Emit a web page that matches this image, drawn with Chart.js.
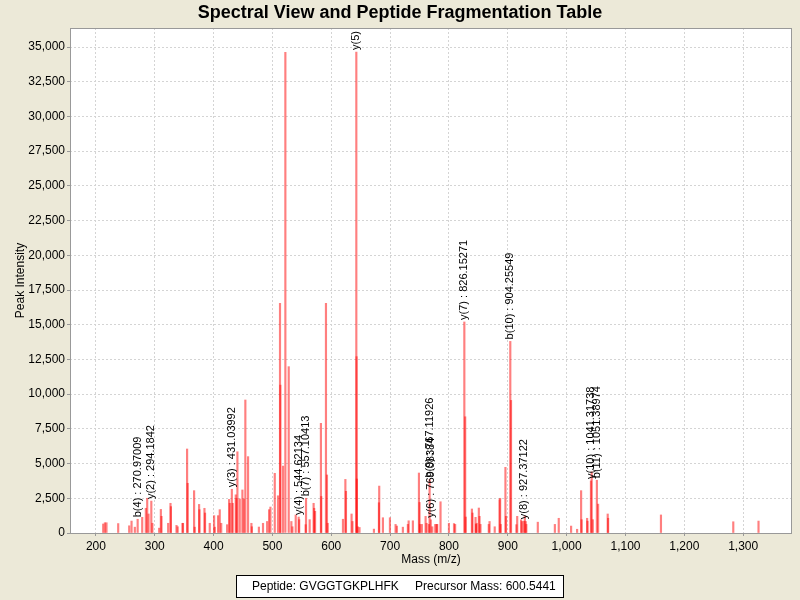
<!DOCTYPE html>
<html>
<head>
<meta charset="utf-8">
<title>Spectral View and Peptide Fragmentation Table</title>
<script src="https://cdn.jsdelivr.net/npm/chart.js@4/dist/chart.umd.min.js"></script>
<style>
    html, body { margin: 0; padding: 0; background: #ECE9D8; }
    #wrap { width: 800px; height: 600px; }
</style>
</head>
<body>
<div id="wrap"><canvas id="spectrumChart" width="800" height="600"></canvas></div>
<script>
// Peak list (m/z and intensity)
const peakMz = [
    212.4, 215.3, 218.0, 237.9, 256.6, 260.6, 266.2, 270.97, 278.7, 284.9,
    287.2, 289.5, 294.18, 296.0, 307.5, 310.4, 311.5, 322.8, 326.8, 327.5,
    337.0, 339.0, 347.2, 348.0, 355.0, 356.0, 366.9, 368.0, 375.4, 376.0,
    384.5, 385.5, 393.5, 400.9, 402.0, 407.7, 410.5, 413.0, 423.0, 426.4,
    427.6, 431.04, 432.5, 437.7, 439.0, 440.5, 444.5, 449.0, 451.3, 454.0,
    458.6, 464.3, 465.0, 477.0, 484.0, 491.0, 494.3, 496.6, 504.0, 509.5,
    512.9, 513.5, 518.0, 522.0, 527.7, 532.2, 534.0, 539.6, 544.62, 545.5,
    556.5, 557.1, 563.3, 570.0, 571.0, 572.5, 582.4, 583.0, 591.0, 592.7,
    594.0, 619.9, 624.0, 625.0, 634.5, 636.0, 642.6, 643.0, 643.5, 645.0,
    648.0, 672.5, 681.0, 681.5, 687.8, 699.7, 709.3, 711.5, 721.7, 730.2,
    731.5, 738.7, 749.0, 750.0, 751.0, 754.0, 760.3, 762.0, 766.0, 767.12,
    769.08, 771.7, 776.7, 779.0, 780.0, 785.7, 800.0, 808.6, 810.5, 826.15,
    827.6, 828.5, 839.0, 840.0, 845.2, 846.0, 847.0, 850.8, 852.0, 853.6,
    867.7, 869.0, 877.8, 885.9, 887.0, 888.0, 896.0, 897.0, 904.26, 905.5,
    914.6, 916.0, 922.6, 924.0, 927.37, 929.0, 930.5, 931.5, 951.0, 980.0,
    986.6, 1007.6, 1017.8, 1024.6, 1025.5, 1034.8, 1035.5, 1041.32, 1042.6, 1044.5,
    1051.39, 1053.5, 1069.8, 1070.5, 1160.3, 1283.2, 1326.1
];
const peakIntensity = [
    650, 740, 740, 680, 520, 860, 420, 990, 1130, 1780,
    2500, 1370, 2300, 700, 350, 1700, 1200, 700, 2140, 1900,
    550, 450, 700, 700, 6050, 3580, 3050, 420, 2060, 1680,
    1780, 1440, 700, 1250, 420, 1250, 1680, 700, 600, 2420,
    2140, 3150, 2140, 2750, 2500, 5850, 2450, 3100, 2450, 9580,
    5500, 700, 450, 430, 700, 830, 1680, 1870, 4300, 2680,
    16540, 10650, 4820, 34620, 11980, 830, 450, 1300, 1150, 960,
    600, 2500, 960, 2140, 1780, 1560, 7900, 2630, 16540, 4180,
    700, 990, 3860, 3000, 1370, 830, 34640, 12700, 3890, 450,
    400, 280, 2180, 3380, 1100, 1100, 620, 500, 420, 620,
    880, 880, 4320, 2200, 620, 620, 1200, 700, 620, 3850,
    950, 450, 620, 620, 620, 2250, 700, 680, 620, 15200,
    8370, 1150, 1730, 1440, 1130, 620, 700, 1800, 1200, 620,
    620, 830, 450, 2400, 2500, 620, 4730, 1200, 13800, 9550,
    600, 1200, 950, 830, 850, 1220, 830, 620, 780, 620,
    1060, 500, 270, 3050, 960, 1060, 850, 3750, 4400, 960,
    3800, 2080, 1370, 1060, 1300, 810, 860
];

// Matched fragment ions (annotations)
const fragmentLabels = [
    'b(4) : 270.97009', 'y(2) : 294.1842', 'y(3) : 431.03992', 'y(4) : 544.62134',
    'b(7) : 557.10413', 'y(5) : 642.26599', 'b(9) : 767.11926', 'y(6) : 769.08384',
    'y(7) : 826.15271', 'b(10) : 904.25549', 'y(8) : 927.37122', 'y(10) : 1041.31738',
    'b(11) : 1051.38974'
];
const fragmentMz = [
    270.97, 294.18, 431.04, 544.62, 557.1, 642.6, 767.12, 769.08,
    826.15, 904.26, 927.37, 1041.32, 1051.39
];
const fragmentIntensity = [
    990, 2300, 3150, 1150, 2500, 34640, 3850, 950,
    15200, 13800, 850, 3750, 3800
];

// Axis ranges and tick values
const massRange = [156, 1383];
const massTicks = [200, 300, 400, 500, 600, 700, 800, 900, 1000, 1100, 1200, 1300];
const intensityMax = 36370;
const intensityTicks = [
    0, 2500, 5000, 7500, 10000, 12500, 15000, 17500,
    20000, 22500, 25000, 27500, 30000, 32500, 35000
];

const peptideText = 'Peptide: GVGGTGKPLHFK';
const precursorText = 'Precursor Mass: 600.5441';

const FONT = '"Liberation Sans", Arial, sans-serif';

document.addEventListener('DOMContentLoaded', function() {
    if (typeof Chart === 'undefined') {
        console.error('Chart.js not loaded');
        return;
    }

    // White plot background + grey outline
    const plotFrame = {
        id: 'plotFrame',
        beforeDraw(chart) {
            const { ctx, chartArea: a } = chart;
            ctx.save();
            ctx.fillStyle = '#ECE9D8';
            ctx.fillRect(0, 0, chart.width, chart.height);
            ctx.fillStyle = '#ffffff';
            ctx.fillRect(a.left, a.top, a.right - a.left, a.bottom - a.top);
            ctx.restore();
        },
        afterDraw(chart) {
            const { ctx, chartArea: a } = chart;
            ctx.save();
            ctx.strokeStyle = '#999999';
            ctx.lineWidth = 1;
            ctx.strokeRect(a.left + 0.5, a.top + 0.5, a.right - a.left - 1, a.bottom - a.top);
            ctx.restore();
        }
    };

    // Rotated fragment labels above their peaks
    const fragmentAnnotations = {
        id: 'fragmentAnnotations',
        afterDatasetsDraw(chart) {
            const { ctx, chartArea: a, scales } = chart;
            ctx.save();
            ctx.beginPath();
            ctx.rect(a.left, a.top, a.right - a.left, a.bottom - a.top);
            ctx.clip();
            ctx.font = '11px ' + FONT;
            ctx.fillStyle = '#000000';
            ctx.textAlign = 'left';
            ctx.textBaseline = 'middle';
            fragmentLabels.forEach(function(label, i) {
                const x = scales.x.getPixelForValue(fragmentMz[i]);
                const y = scales.y.getPixelForValue(fragmentIntensity[i]) - 2;
                ctx.save();
                ctx.translate(x, y);
                ctx.rotate(-Math.PI / 2);
                ctx.fillText(label, 0, 0);
                ctx.restore();
            });
            ctx.restore();
        }
    };

    // Title and peptide info box
    const headerFooter = {
        id: 'headerFooter',
        afterDraw(chart) {
            const ctx = chart.ctx;
            ctx.save();
            ctx.fillStyle = '#000000';
            ctx.font = 'bold 18px ' + FONT;
            ctx.textAlign = 'center';
            ctx.textBaseline = 'middle';
            ctx.fillText('Spectral View and Peptide Fragmentation Table', 400, 13);

            ctx.fillStyle = '#ffffff';
            ctx.fillRect(236, 575, 328, 23);
            ctx.strokeStyle = '#000000';
            ctx.lineWidth = 1;
            ctx.strokeRect(236.5, 575.5, 327, 22);
            ctx.fillStyle = '#000000';
            ctx.font = '12px ' + FONT;
            ctx.textAlign = 'left';
            ctx.fillText(peptideText, 252, 587);
            ctx.fillText(precursorText, 415, 587);
            ctx.restore();
        }
    };

    function fmt(v) { return v.toLocaleString('en-US'); }

    const ctx = document.getElementById('spectrumChart').getContext('2d');
    new Chart(ctx, {
        type: 'bar',
        data: {
            datasets: [{
                data: peakMz.map(function(mz, i) { return { x: mz, y: peakIntensity[i] }; }),
                backgroundColor: 'rgba(255, 0, 0, 0.5)',
                borderWidth: 0,
                barThickness: 1.5
            }]
        },
        options: {
            responsive: false,
            animation: false,
            layout: { padding: { left: 0, top: 28, right: 8, bottom: 30 } },
            plugins: {
                legend: { display: false },
                tooltip: { enabled: false },
                title: { display: false }
            },
            scales: {
                x: {
                    type: 'linear',
                    min: massRange[0],
                    max: massRange[1],
                    offset: false,
                    grid: { offset: false, color: '#d4d4d4', tickColor: '#999999', tickLength: 3 },
                    border: { display: false, dash: [2, 2] },
                    ticks: {
                        maxRotation: 0,
                        autoSkip: false,
                        padding: 3,
                        color: '#000000',
                        font: { family: FONT, size: 12 },
                        callback: fmt
                    },
                    afterBuildTicks: function(scale) {
                        scale.ticks = massTicks.map(function(v) { return { value: v }; });
                    },
                    title: {
                        display: true,
                        text: 'Mass (m/z)',
                        color: '#000000',
                        font: { family: FONT, size: 12 },
                        padding: { top: 0, bottom: 3 }
                    },
                    afterFit: function(scale) { scale.height = 37; }
                },
                y: {
                    type: 'linear',
                    min: 0,
                    max: intensityMax,
                    grid: { color: '#d4d4d4', tickColor: '#999999', tickLength: 3 },
                    border: { display: false, dash: [2, 2] },
                    ticks: {
                        autoSkip: false,
                        padding: 2,
                        color: '#000000',
                        font: { family: FONT, size: 12 },
                        callback: fmt
                    },
                    afterBuildTicks: function(scale) {
                        scale.ticks = intensityTicks.map(function(v) { return { value: v }; });
                    },
                    title: {
                        display: true,
                        text: 'Peak Intensity',
                        color: '#000000',
                        font: { family: FONT, size: 12 },
                        padding: { top: 13, bottom: 0 }
                    },
                    afterFit: function(scale) { scale.width = 70; }
                }
            }
        },
        plugins: [plotFrame, fragmentAnnotations, headerFooter]
    });
});
</script>
</body>
</html>
